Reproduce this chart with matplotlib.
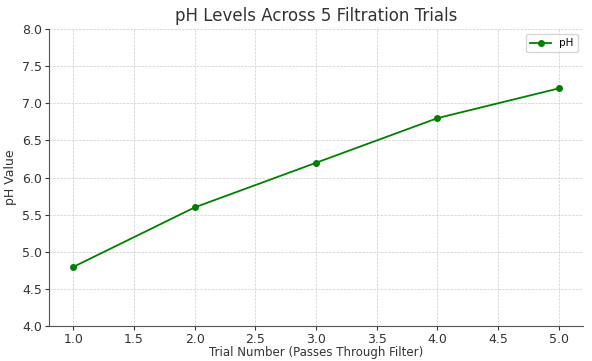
import matplotlib
matplotlib.use('Agg')
import matplotlib.pyplot as plt

# Данные
trials = [1, 2, 3, 4, 5]
ph_values = [4.8, 5.6, 6.2, 6.8, 7.2]

fig = plt.figure(figsize=(5.92, 3.61), dpi=100)
ax = fig.add_axes([0.083, 0.096, 0.902, 0.824])

ax.plot(trials, ph_values, color='green', marker='o', markersize=4, linewidth=1.3, label='pH')
ax.set_ylim(4.0, 8.0)
ax.set_xlim(0.8, 5.2)

text_color = '#333333'
ax.set_title('pH Levels Across 5 Filtration Trials', fontsize=12, color=text_color)
ax.set_xlabel('Trial Number (Passes Through Filter)', fontsize=8.5, color=text_color, labelpad=0)
ax.set_ylabel('pH Value', fontsize=9, color=text_color)
ax.tick_params(labelsize=9, colors=text_color, length=3, pad=2)
ax.grid(True, linestyle='--', linewidth=0.5, color='#cccccc')

for side in ['top', 'right']:
    ax.spines[side].set_visible(False)
for side in ['left', 'bottom']:
    ax.spines[side].set_color('#555555')

ax.legend(loc='upper right', fontsize=7.5)

plt.savefig('out.png')
